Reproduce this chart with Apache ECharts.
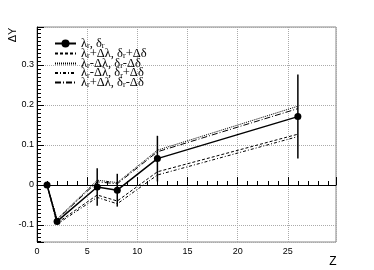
<!DOCTYPE html>
<html>
<head>
<meta charset="utf-8">
<script src="https://cdn.jsdelivr.net/npm/echarts@6/dist/echarts.min.js"></script>
<style>html,body{margin:0;padding:0;background:#fff}#c{width:374px;height:270px}</style>
</head>
<body>
<div id="c"></div>
<script>
var Z = [1, 2, 6, 8, 12, 26];
var central = [0, -0.091, -0.005, -0.013, 0.066, 0.171];
var centralErr = [0, 0.004, 0.047, 0.041, 0.057, 0.105];
var plusPlus = [0, -0.095, -0.025, -0.040, 0.033, 0.127];
var minusMinus = [0, -0.085, 0.012, 0.006, 0.087, 0.197];
var minusPlus = [0, -0.098, -0.031, -0.047, 0.025, 0.121];
var plusMinus = [0, -0.087, 0.008, 0.003, 0.083, 0.191];
var names = ['c', 'pp', 'mm', 'mp', 'pm'];
var labels = {
  c: '{n|λ}{s|r}{n|, δ}{s|r}',
  pp: '{n|λ}{s|r}{n|+Δλ, δ}{s|r}{n|+Δδ}',
  mm: '{n|λ}{s|r}{n|-Δλ, δ}{s|r}{n|-Δδ}',
  mp: '{n|λ}{s|r}{n|-Δλ, δ}{s|r}{n|+Δδ}',
  pm: '{n|λ}{s|r}{n|+Δλ, δ}{s|r}{n|-Δδ}'
};
function pts(arr){ return Z.map(function(z,i){ return [z, arr[i]]; }); }
function lineSeries(name, arr, dash){
  return {
    name: name, type: 'line', data: pts(arr), symbol: 'circle', showSymbol: false, z: 3,
    lineStyle: {color: '#000', width: 1, type: dash},
    itemStyle: {color: '#000', opacity: 0}
  };
}
var legendTops = [37, 47, 57, 66.5, 76];
var legends = names.map(function(n, i){
  return {
    orient: 'vertical', left: 54, top: legendTops[i], padding: 0, itemWidth: 21, itemHeight: 10,
    data: [n],
    formatter: function(nm){ return labels[nm]; },
    textStyle: {
      rich: {
        n: {fontFamily: 'Liberation Serif', fontSize: 12.5, color: '#000', lineHeight: 10},
        s: {fontFamily: 'Liberation Serif', fontSize: 8, color: '#000', padding: [5, 0, 0, 0], lineHeight: 5}
      }
    }
  };
});
var chart = echarts.init(document.getElementById('c'), null, {renderer: 'canvas'});
chart.setOption({
  animation: false,
  grid: {left: 37, right: 38, top: 27, bottom: 28, show: true, borderColor: '#888', borderWidth: 1},
  legend: legends,
  xAxis: {
    type: 'value', min: 0, max: 29.8, interval: 5,
    axisLine: {show: true, lineStyle: {color: '#000'}},
    axisTick: {show: true, inside: true, length: 8, lineStyle: {color: '#000'}},
    minorTick: {show: true, splitNumber: 5, length: 4, lineStyle: {color: '#000'}},
    axisLabel: {showMaxLabel: false, color: '#000', fontFamily: 'Liberation Sans', fontSize: 9, margin: 5},
    splitLine: {show: true, lineStyle: {color: '#aaa', type: [1, 1]}}
  },
  yAxis: {
    type: 'value', min: -0.1425, max: 0.395, splitNumber: 5,
    axisLine: {show: true, lineStyle: {color: '#000'}},
    axisTick: {show: true, inside: true, length: 7, lineStyle: {color: '#000'}},
    minorTick: {show: true, splitNumber: 10, length: 4, lineStyle: {color: '#000'}},
    axisLabel: {showMinLabel: false, showMaxLabel: false, color: '#000', fontFamily: 'Liberation Sans', fontSize: 9, margin: 3,
      formatter: function(v){ var r = Math.round(v*10)/10; return r === 0 ? '0' : String(r); }},
    splitLine: {show: true, lineStyle: {color: '#aaa', type: [1, 1]}}
  },
  graphic: [
    {type: 'text', x: 13, y: 35, rotation: Math.PI/2, style: {text: 'ΔY', fontFamily: 'Liberation Sans', fontSize: 11, fill: '#000', align: 'center', verticalAlign: 'middle'}},
    {type: 'text', x: 333, y: 262, style: {text: 'Z', fontFamily: 'Liberation Sans', fontSize: 12, fill: '#000', align: 'center', verticalAlign: 'middle'}}
  ],
  series: [
    {
      name: 'c', type: 'line', data: pts(central), symbol: 'circle', symbolSize: 7, z: 5,
      lineStyle: {color: '#000', width: 1.5}, itemStyle: {color: '#000'}
    },
    lineSeries('pp', plusPlus, [3, 2]),
    lineSeries('mm', minusMinus, [1, 1]),
    lineSeries('mp', minusPlus, [3, 2, 1, 2]),
    lineSeries('pm', plusMinus, [6, 2, 1, 2]),
    {
      type: 'custom', z: 4,
      data: Z.map(function(z,i){ return [z, central[i], centralErr[i]]; }),
      renderItem: function(params, api){
        var x = api.value(0), y = api.value(1), e = api.value(2);
        var p1 = api.coord([x, y + e]), p2 = api.coord([x, y - e]);
        return {type: 'line', shape: {x1: p1[0], y1: p1[1], x2: p2[0], y2: p2[1]}, style: {stroke: '#000', lineWidth: 1.5}};
      }
    }
  ]
});
</script>
</body>
</html>
